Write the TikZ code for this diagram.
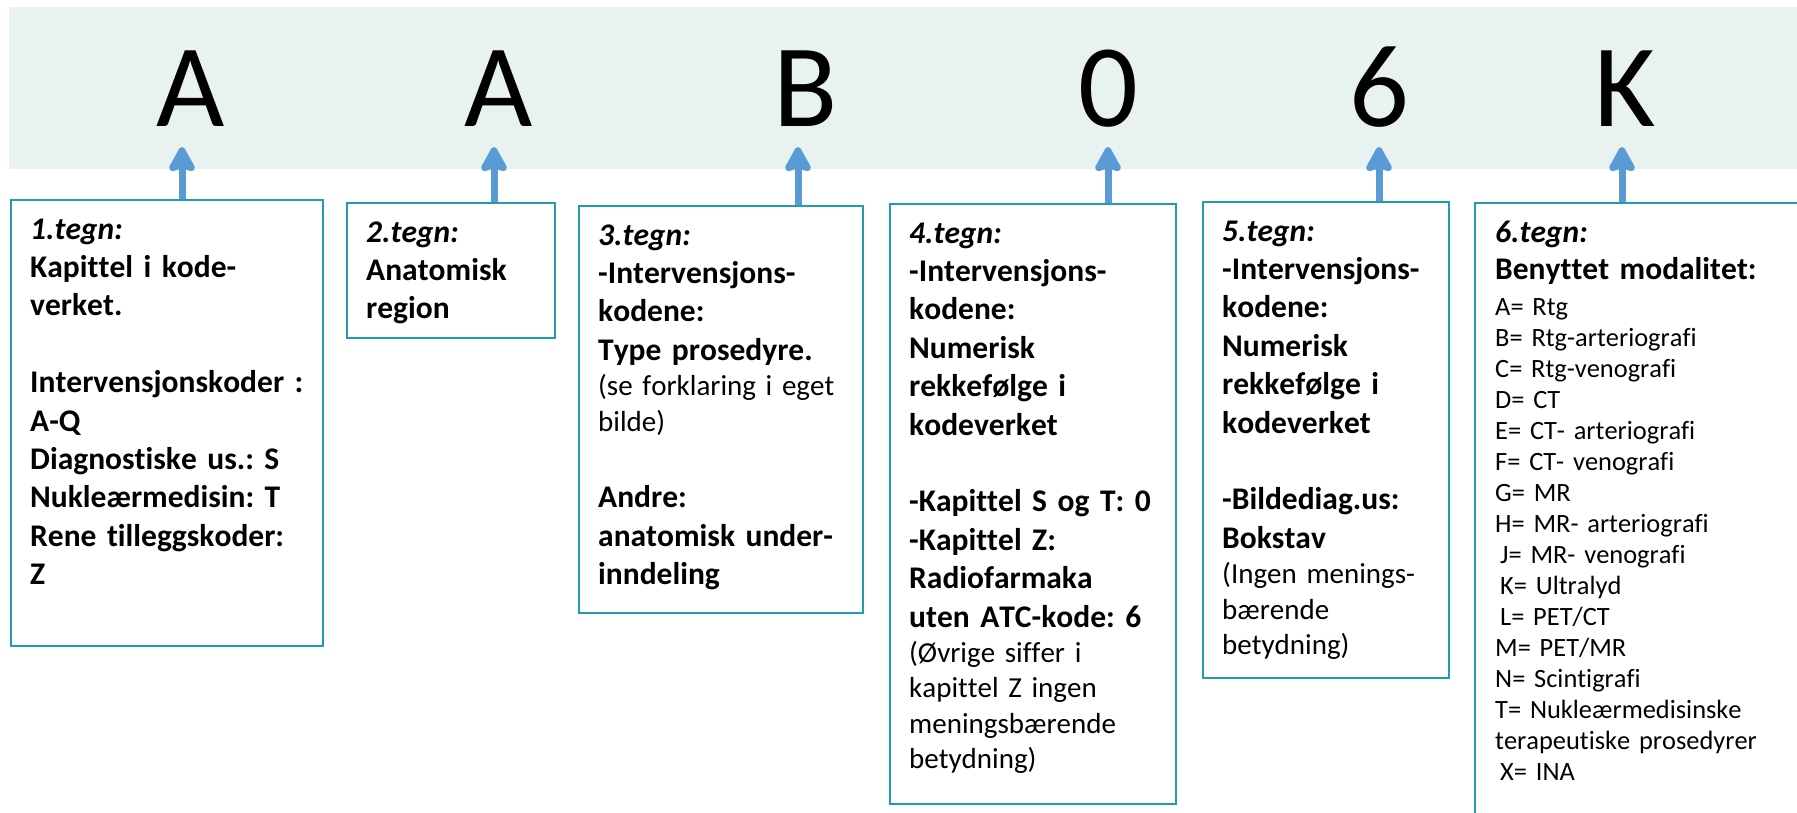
\documentclass[tikz,border=0pt]{standalone}
\usepackage{fontspec}
\setmainfont{Carlito}[Kerning=Off, Ligatures={NoCommon}]
\usetikzlibrary{arrows.meta}

\definecolor{baand}{RGB}{232,242,241}
\definecolor{kant}{RGB}{33,156,176}
\definecolor{pilblaa}{RGB}{91,155,213}
\setlength{\parindent}{0pt}
\frenchspacing
\newcommand{\tyk}{\fontsize{31.5}{38.4}\selectfont\bfseries\spaceskip=.3333em\relax}
\newcommand{\tynn}{\fontsize{29}{35.4}\selectfont\mdseries\spaceskip=.3333em\relax}
\newcommand{\liste}{\fontsize{26.4}{31}\selectfont\mdseries\spaceskip=.3333em\relax}
\newcommand{\topp}{\rule{0pt}{30pt}}

\begin{document}
\begin{tikzpicture}[x=1pt, y=-1pt,
  >={Stealth[length=29pt, width=31pt, inset=4pt, round]},
  box/.style={draw=kant, line width=2.2pt, anchor=north west, inner sep=0pt},
  tekst/.style={anchor=north west, inner sep=0pt, text width=300pt, align=left},
  tegn/.style={anchor=base, inner sep=0pt, font=\fontsize{118}{118}\selectfont},
  pil/.style={->, draw=pilblaa, line width=7pt}]

  \useasboundingbox (0,0) rectangle (1797,813);
  \clip (0,0) rectangle (1797,813);

  % Rad 1: koden
  \fill[baand] (9,7) rectangle (1800,169);
  \node[tegn] (k1) at (191,127)  {A};
  \node[tegn] (k2) at (499,127)  {A};
  \node[tegn] (k3) at (806,127)  {B};
  \node[tegn] (k4) at (1108,127) {0};
  \node[tegn] (k5) at (1379,127) {6};
  \node[tegn] (k6) at (1625,127) {K};

  % Rad 2: forklaringsboksene
  \node[box, minimum width=312pt, minimum height=446pt] (b1) at (10,199)  {};
  \node[box, minimum width=208pt, minimum height=135pt] (b2) at (346,202) {};
  \node[box, minimum width=284pt, minimum height=407pt] (b3) at (578,205) {};
  \node[box, minimum width=286pt, minimum height=600pt] (b4) at (889,203) {};
  \node[box, minimum width=246pt, minimum height=476pt] (b5) at (1202,201) {};
  \node[box, minimum width=340pt, minimum height=660pt] (b6) at (1474,202) {};

  \node[tekst, font=\tyk] (t1) at ([xshift=20pt, yshift=-10pt]b1.north west)
        {\topp\textit{1.tegn:}\\Kapittel i kode-\\verket.\\[38.4pt]
         Intervensjonskoder :\\A-Q\\Diagnostiske us.: S\\Nukleærmedisin: T\\
         Rene tilleggskoder:\\Z};
  \node[tekst, font=\tyk] (t2) at ([xshift=20pt, yshift=-10pt]b2.north west)
        {\topp\textit{2.tegn:}\\Anatomisk\\region};
  \node[tekst] (t3) at ([xshift=20pt, yshift=-10pt]b3.north west)
        {{\tyk\topp\textit{3.tegn:}\\-Intervensjons-\\kodene:\\Type prosedyre.\par}
         {\tynn(se forklaring i eget\\bilde)\par}
         {\tyk\vspace{38.4pt}Andre:\\anatomisk under-\\inndeling\par}};
  \node[tekst] (t4) at ([xshift=20pt, yshift=-10pt]b4.north west)
        {{\tyk\topp\textit{4.tegn:}\\-Intervensjons-\\kodene:\\Numerisk\\
          rekkefølge i\\kodeverket\\[38.4pt]-Kapittel S og T: 0\\-Kapittel Z:\\
          Radiofarmaka\\uten ATC-kode: 6\par}
         {\tynn(Øvrige siffer i\\kapittel Z ingen\\meningsbærende\\betydning)\par}};
  \node[tekst] (t5) at ([xshift=20pt, yshift=-10pt]b5.north west)
        {{\tyk\topp\textit{5.tegn:}\\-Intervensjons-\\kodene:\\Numerisk\\
          rekkefølge i\\kodeverket\\[38.4pt]-Bildediag.us:\\Bokstav\par}
         {\tynn(Ingen menings-\\bærende\\betydning)\par}};
  \node[tekst] (t6) at ([xshift=21pt, yshift=-10pt]b6.north west)
        {{\tyk\topp\textit{6.tegn:}\\[-1pt]Benyttet modalitet:\par}
         {\liste\vspace{5pt}A= Rtg\\B= Rtg-arteriografi\\C= Rtg-venografi\\D= CT\\
          E= CT- arteriografi\\F= CT- venografi\\G= MR\\H= MR- arteriografi\\
          \hspace*{5pt}J= MR- venografi\\\hspace*{5pt}K= Ultralyd\\
          \hspace*{5pt}L= PET/CT\\M= PET/MR\\N= Scintigrafi\\
          T= Nukleærmedisinske\\terapeutiske prosedyrer\\\hspace*{5pt}X= INA\par}};

  % Piler opp mot tegnene
  \coordinate (p1) at (182,147);
  \coordinate (p2) at (494,147);
  \coordinate (p3) at (798,147);
  \coordinate (p4) at (1108,147);
  \coordinate (p5) at (1379,147);
  \coordinate (p6) at (1622,147);
  \draw[pil] (p1 |- b1.north) -- (p1);
  \draw[pil] (p2 |- b2.north) -- (p2);
  \draw[pil] (p3 |- b3.north) -- (p3);
  \draw[pil] (p4 |- b4.north) -- (p4);
  \draw[pil] (p5 |- b5.north) -- (p5);
  \draw[pil] (p6 |- b6.north) -- (p6);
\end{tikzpicture}
\end{document}
